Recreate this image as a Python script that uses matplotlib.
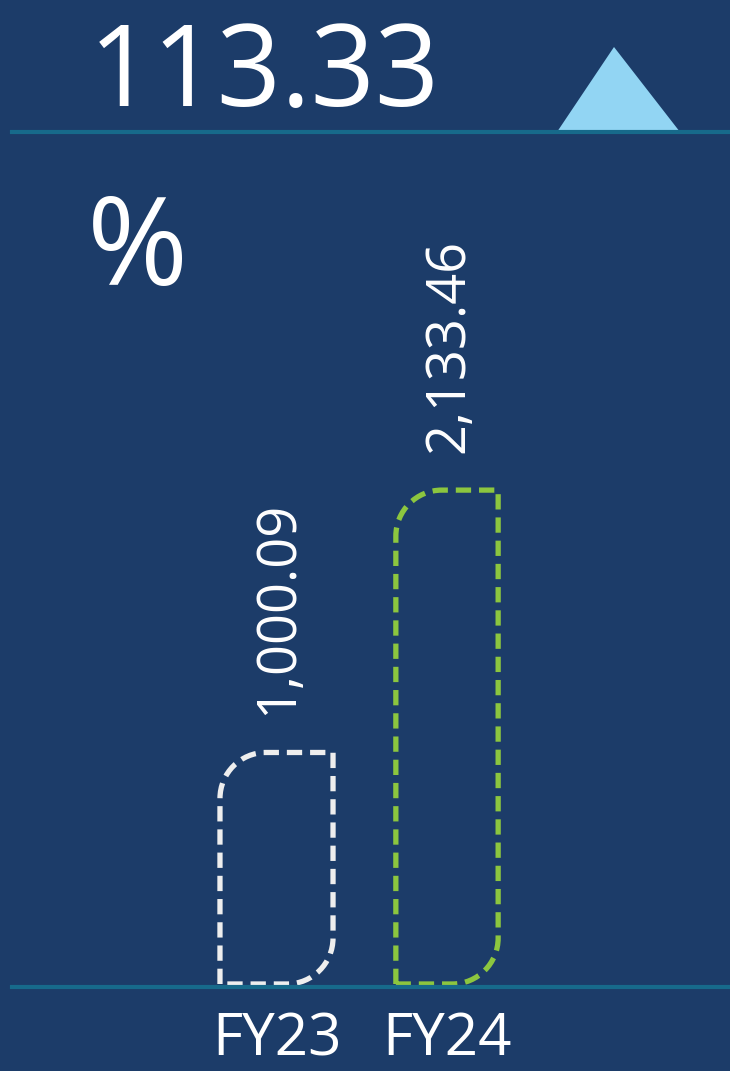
import matplotlib
matplotlib.use("Agg")
import matplotlib.pyplot as plt
from matplotlib.path import Path
from matplotlib.patches import PathPatch, Polygon
from matplotlib.lines import Line2D

# ---- data ----
categories = ["FY23", "FY24"]
values = [1000.09, 2133.46]
value_labels = ["1,000.09", "2,133.46"]
headline = "113.33"
unit = "%"

# ---- style ----
W, H = 730, 1071
DPI = 100
BG = "#1c3c69"
TEAL = "#176a8b"
TRI = "#92d5f3"
bar_colors = ["#eeeeee", "#8cc63f"]
FONT = ["Open Sans", "DejaVu Sans"]

fig = plt.figure(figsize=(W / DPI, H / DPI), dpi=DPI, facecolor=BG)

def fx(x):
    return x / W

def fy(y):
    return 1 - y / H

ax = fig.add_axes([0, 0, 1, 1])
ax.set_facecolor(BG)
ax.axis("off")

# scale: category spacing ~170.5 px, first centre at 276.5 px
spacing = 170.5
c0 = 276.5
ax.set_xlim(-c0 / spacing, (W - c0) / spacing)
k = 0.2315  # px per unit
base_px = 984
ax.set_ylim(-(H - base_px) / k, base_px / k)

# lines
for ypx in (132, 987):
    fig.add_artist(Line2D([fx(12), fx(730)], [fy(ypx), fy(ypx)],
                          color=TEAL, lw=3.0, transform=fig.transFigure))

# triangle
fig.add_artist(Polygon([[fx(557), fy(132)], [fx(614), fy(47)], [fx(680), fy(132)]],
                       closed=True, facecolor=TRI, edgecolor="none",
                       transform=fig.transFigure))

# headline texts
fig.text(fx(89), fy(106), headline, color="white", fontsize=81,
         family=FONT, ha="left", va="baseline")
fig.text(fx(87), fy(285), unit, color="white", fontsize=88,
         family=FONT, ha="left", va="baseline")

# bars with rounded top-left and bottom-right corners
widths = [0.663, 0.60]
r_px = 46
rx = r_px / spacing
ry = r_px / k
kap = 0.5523

for i, (v, col) in enumerate(zip(values, bar_colors)):
    xc = i
    x0 = xc - widths[i] / 2
    x1 = xc + widths[i] / 2
    h = v
    verts = [
        (x0, 0),
        (x0, h - ry),
        (x0, h - ry + kap * ry), (x0 + rx - kap * rx, h), (x0 + rx, h),
        (x1, h),
        (x1, ry),
        (x1, ry - kap * ry), (x1 - rx + kap * rx, 0), (x1 - rx, 0),
        (x0, 0),
    ]
    codes = [Path.MOVETO, Path.LINETO,
             Path.CURVE4, Path.CURVE4, Path.CURVE4,
             Path.LINETO, Path.LINETO,
             Path.CURVE4, Path.CURVE4, Path.CURVE4,
             Path.LINETO]
    patch = PathPatch(Path(verts, codes), facecolor="none", edgecolor=col,
                      lw=3.8, linestyle=(0, (2.9, 1.5)), capstyle="butt",
                      joinstyle="miter")
    ax.add_patch(patch)
    ax.annotate(value_labels[i], xy=(xc, h), xytext=(1, 27),
                textcoords="offset points", rotation=90,
                ha="center", va="bottom", color="white", fontsize=39,
                family=FONT)
    ax.text(xc, fy(1055), categories[i], transform=ax.get_xaxis_transform(),
            ha="center", va="baseline", color="white", fontsize=42,
            family=FONT)

fig.savefig("out.png", dpi=DPI, facecolor=BG)
